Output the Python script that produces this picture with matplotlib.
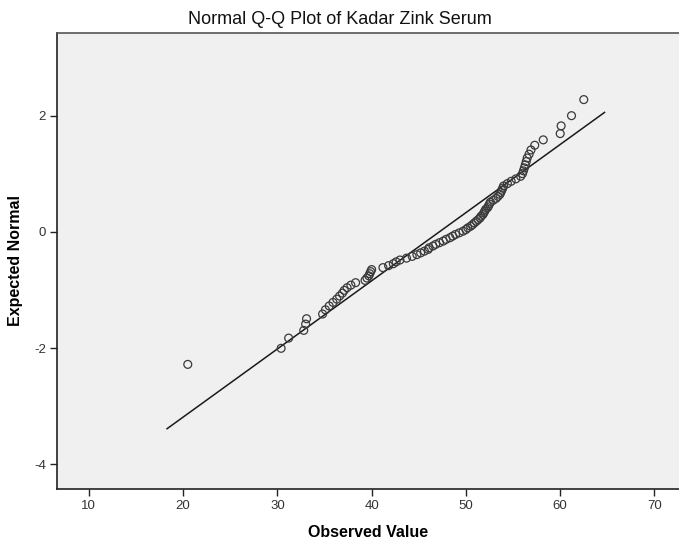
import matplotlib
matplotlib.use("Agg")
import matplotlib.pyplot as plt

observed = [20.5, 30.4, 31.2, 32.8, 33.0, 33.1, 34.8, 35.1, 35.5, 35.9,
            36.3, 36.6, 36.9, 37.1, 37.4, 37.8, 38.3, 39.3, 39.5, 39.7,
            39.8, 39.9, 40.0, 41.2, 41.8, 42.3, 42.6, 43.0, 43.7, 44.3,
            44.8, 45.2, 45.6, 46.0, 46.1, 46.5, 46.8, 47.2, 47.6, 47.9,
            48.3, 48.6, 48.9, 49.3, 49.7, 50.0, 50.2, 50.5, 50.7, 50.9,
            51.1, 51.3, 51.5, 51.6, 51.8, 51.9, 52.0, 52.1, 52.3, 52.4,
            52.5, 52.6, 52.9, 53.2, 53.4, 53.6, 53.7, 53.8, 53.9, 54.0,
            54.4, 54.8, 55.3, 55.8, 56.0, 56.1, 56.2, 56.3, 56.4, 56.5,
            56.7, 56.9, 57.3, 58.2, 60.0, 60.1, 61.2, 62.5]

# Expected normal values (upper half; the lower half mirrors it)
expected_upper = [0.014, 0.042, 0.071, 0.099, 0.127, 0.156, 0.184, 0.213, 0.242, 0.271,
                  0.300, 0.330, 0.360, 0.390, 0.420, 0.451, 0.483, 0.515, 0.547, 0.580,
                  0.614, 0.648, 0.683, 0.719, 0.756, 0.794, 0.834, 0.874, 0.916, 0.960,
                  1.006, 1.054, 1.104, 1.157, 1.214, 1.275, 1.341, 1.414, 1.495, 1.588,
                  1.696, 1.829, 2.005, 2.282]
expected_lower = [-v for v in reversed(expected_upper)]
expected = expected_lower + expected_upper

# Reference line (normal fit): mean, sd and x-extent
fit_mean = 47.16
fit_sd = 8.51
line_x = [18.3, 64.7]
line_y = [(x - fit_mean) / fit_sd for x in line_x]

x_ticks = [10, 20, 30, 40, 50, 60, 70]
y_ticks = [-4, -2, 0, 2]

plt.rcParams['font.family'] = ['Liberation Sans', 'DejaVu Sans']

W, H = 679, 543
fig = plt.figure(figsize=(W / 100, H / 100), dpi=100)
fig.patch.set_facecolor('white')

left, right, top, bottom = 57, 679, 33, 489
ax = fig.add_axes([left / W, (H - bottom) / H, (right - left) / W, (bottom - top) / H])
ax.set_facecolor('#f0f0f0')

ax.plot(line_x, line_y, color='#1a1a1a', lw=1.1, zorder=2)
ax.scatter(observed, expected, s=32, facecolors='none', edgecolors='#3a3a3a',
           linewidths=0.9, zorder=3)

ax.set_xlim(6.63, 72.6)
ax.set_ylim(-4.43, 3.43)
ax.set_xticks(x_ticks)
ax.set_yticks(y_ticks)
ax.set_xticklabels([str(t) for t in x_ticks])
ax.set_yticklabels([str(t) for t in y_ticks])

for s in ['left', 'bottom']:
    ax.spines[s].set_color('#222222')
    ax.spines[s].set_linewidth(1.2)
ax.spines['top'].set_color('#555555')
ax.spines['top'].set_linewidth(1.2)
ax.spines['right'].set_visible(False)

ax.tick_params(axis='both', direction='out', length=5, width=1, color='#222222',
               labelsize=9.5, labelcolor='#333333', pad=3)

ax.set_xlabel('Observed Value', fontsize=11.5, fontweight='bold', labelpad=9)
ax.set_ylabel('Expected Normal', fontsize=11.5, fontweight='bold', labelpad=8)

fig.text(0.5, 1 - 19 / H, 'Normal Q-Q Plot of Kadar Zink Serum', ha='center', va='center',
         fontsize=13, color='#111111')

fig.savefig('out.png', dpi=100)
